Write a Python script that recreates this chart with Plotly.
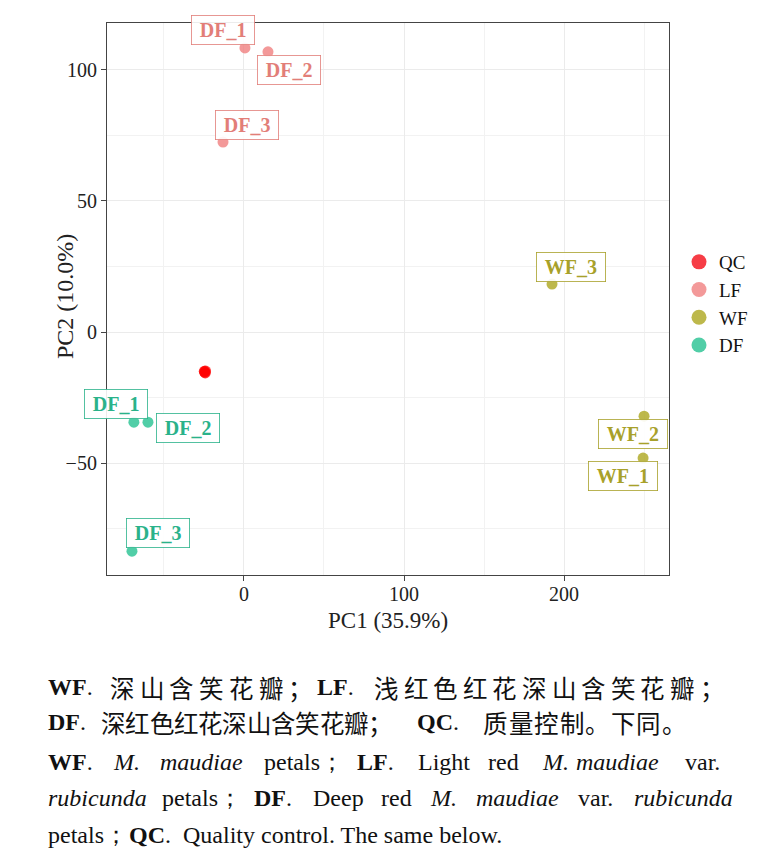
import plotly.graph_objects as go

W, H = 757, 862

# ---------------- data ----------------
groups = ["QC", "LF", "WF", "DF"]
qc_x = [-24.8, -24.2, -24.6, -24.0]
qc_y = [-15.0, -15.6, -15.3, -14.9]
lf_x = [0.6, 15.0, -13.1]
lf_y = [108.4, 106.9, 72.5]
lf_lab = ["DF_1", "DF_2", "DF_3"]
wf_x = [249.4, 250.0, 192.5]
wf_y = [-48.1, -32.1, 18.3]
wf_lab = ["WF_1", "WF_2", "WF_3"]
df_x = [-68.8, -60.0, -70.0]
df_y = [-34.4, -34.4, -83.6]
df_lab = ["DF_1", "DF_2", "DF_3"]

x_title = "PC1 (35.9%)"
y_title = "PC2 (10.0%)"

# ---------------- styles ----------------
fill = {"QC": "rgba(255,0,0,0.75)", "LF": "rgba(240,128,128,0.8)",
        "WF": "rgba(173,166,30,0.8)", "DF": "rgba(38,194,145,0.8)"}
leg_fill = {"QC": "rgba(245,40,50,0.9)", "LF": "rgba(240,128,128,0.8)",
            "WF": "rgba(173,166,30,0.8)", "DF": "rgba(38,194,145,0.8)"}
txtc = {"LF": "#E27E78", "WF": "#A8A12A", "DF": "#2AB28A"}
SERIF = "Liberation Serif, Times New Roman, serif"
CJK = "Noto Sans CJK SC"

fig = go.Figure()
series = {"QC": (qc_x, qc_y), "LF": (lf_x, lf_y), "WF": (wf_x, wf_y), "DF": (df_x, df_y)}
for g in groups:
    xs, ys = series[g]
    fig.add_trace(go.Scatter(x=xs, y=ys, mode="markers", name=g, showlegend=False,
                             marker=dict(size=11, color=fill[g], line=dict(width=0))))
# legend-only entries with larger keys
for g in groups:
    fig.add_trace(go.Scatter(x=[None], y=[None], mode="markers", name=g,
                             marker=dict(size=15, color=leg_fill[g], line=dict(width=0))))

# label offsets (pixels) in ggrepel style
label_sets = [
    ("LF", lf_x, lf_y, lf_lab, [(-22, 18), (21, -18), (24, 17)]),
    ("WF", wf_x, wf_y, wf_lab, [(-20, -18), (-11, -18), (19, 17)]),
    ("DF", df_x, df_y, df_lab, [(-18, 18), (40, -6), (26, 18)]),
]
for g, xs, ys, labs, offs in label_sets:
    for xv, yv, lab, (dx, dy) in zip(xs, ys, labs, offs):
        fig.add_annotation(x=xv, y=yv, xref="x", yref="y",
                           text="&nbsp;<b>%s</b>&nbsp;" % lab,
                           showarrow=False, xshift=dx, yshift=dy,
                           font=dict(family=SERIF, size=20, color=txtc[g]),
                           bgcolor="rgba(255,255,255,0.9)", bordercolor=txtc[g],
                           borderwidth=0.8, borderpad=3)

x0, x1 = 107 / W, 669 / W
y0, y1 = 1 - 575 / H, 1 - 23 / H
axis_common = dict(showline=True, mirror=True, linecolor="#444444", linewidth=1.2,
                   ticks="outside", ticklen=5, tickcolor="#444444", tickwidth=1,
                   gridcolor="#EBEBEB", gridwidth=1, zeroline=False,
                   tickfont=dict(family=SERIF, size=20, color="#222222"))
fig.update_layout(
    width=W, height=H, margin=dict(l=0, r=0, t=0, b=0),
    paper_bgcolor="white", plot_bgcolor="white",
    xaxis=dict(domain=[x0, x1], range=[-85.6, 265.6], dtick=100, tick0=0,
               ticklabelstandoff=-4,
               minor=dict(dtick=50, showgrid=True, gridcolor="#F2F2F2", gridwidth=0.8),
               **axis_common),
    yaxis=dict(domain=[y0, y1], range=[-92.7, 117.9], dtick=50, tick0=0,
               minor=dict(dtick=25, showgrid=True, gridcolor="#F2F2F2", gridwidth=0.8),
               **axis_common),
    legend=dict(x=679 / W, y=1 - 243 / H, xanchor="left", yanchor="top",
                font=dict(family=SERIF, size=19, color="#111111"),
                bgcolor="rgba(0,0,0,0)", itemwidth=30, tracegroupgap=0),
    showlegend=True,
)

# axis titles
fig.add_annotation(x=388 / W, y=1 - 620 / H, xref="paper", yref="paper", showarrow=False,
                   xanchor="center", yanchor="middle",
                   text=x_title, font=dict(family=SERIF, size=23, color="#222222"))
fig.add_annotation(x=65 / W, y=1 - 297 / H, xref="paper", yref="paper", showarrow=False,
                   xanchor="center", yanchor="middle",
                   textangle=-90, text=y_title, font=dict(family=SERIF, size=24, color="#222222"))

# ---------------- caption ----------------
CAP_LAT = 24
CAP_CJK = 24.5

def put(text, px, py, cjk=False):
    fig.add_annotation(x=px / W, y=1 - py / H, xref="paper", yref="paper",
                       xanchor="left", yanchor="middle", showarrow=False, text=text,
                       font=dict(family=(CJK if cjk else SERIF), size=(CAP_CJK if cjk else CAP_LAT),
                                 color="#111111"))

def put_chars(chars, px, py, step):
    for i, ch in enumerate(chars):
        put(ch, px + i * step, py, cjk=True)

# line 1 (justified)
L1 = 687
put("<b>WF</b>.", 46, L1)
put_chars("深山含笑花瓣；", 108, L1, 29.7)
put("<b>LF</b>.", 315, L1)
put_chars("浅红色红花深山含笑花瓣；", 372, L1, 29.6)
# line 2
L2 = 722
put("<b>DF</b>.", 46, L2)
put_chars("深红色红花深山含笑花瓣；", 99, L2, 24.3)
put("<b>QC</b>.", 415, L2)
put_chars("质量控制。下同。", 481, L2, 25.5)
# line 3 (justified)
L3 = 762
for t, px in [("<b>WF</b>.", 46), ("<i>M.</i>", 111), ("<i>maudiae</i>", 158), ("petals；", 262),
              ("<b>LF</b>.", 355), ("Light", 416), ("red", 486), ("<i>M.</i>", 540),
              ("<i>maudiae</i>", 574), ("var.", 683)]:
    put(t, px, L3)
# line 4 (justified)
L4 = 798
for t, px in [("<i>rubicunda</i>", 46), ("petals；", 160), ("<b>DF</b>.", 252), ("Deep", 311),
              ("red", 379), ("<i>M.</i>", 428), ("<i>maudiae</i>", 474), ("var.", 576),
              ("<i>rubicunda</i>", 632)]:
    put(t, px, L4)
# line 5
L5 = 835
put("petals；", 46, L5)
put("<b>QC</b>.", 127, L5)
put("Quality control. The same below.", 181, L5)

fig.write_html("out.html", config={"displayModeBar": False},
               post_script="document.body.style.margin='0';")
